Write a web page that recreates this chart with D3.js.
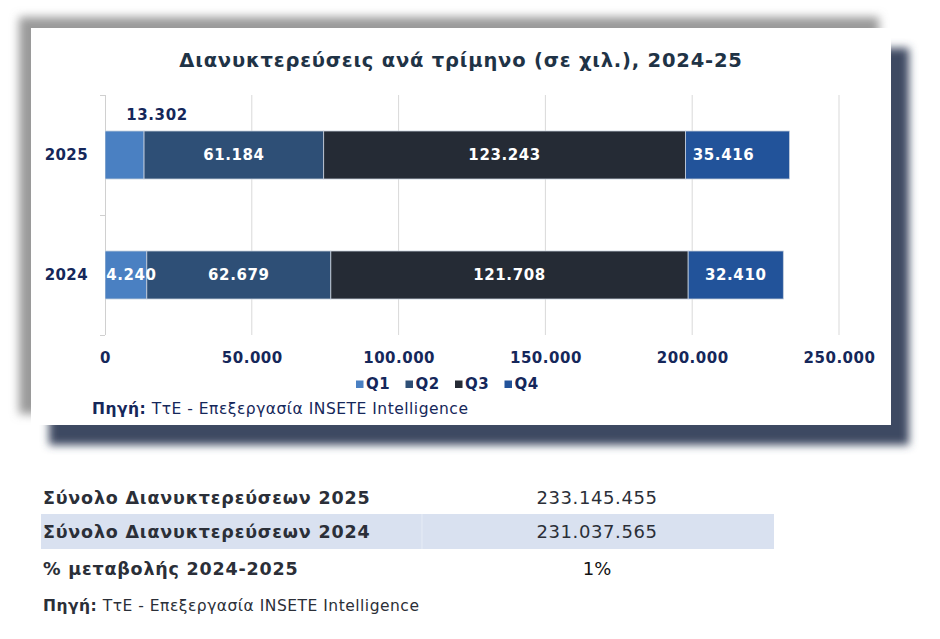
<!DOCTYPE html>
<html>
<head>
<meta charset="utf-8">
<script src="https://cdn.jsdelivr.net/npm/d3@7"></script>
<style>
body { margin: 0; background: #fff; }
svg { display: block; font-family: "DejaVu Sans", Verdana, sans-serif; }
</style>
</head>
<body>
<script>
// chart data
var years = ["2025", "2024"];
var quarters = ["Q1", "Q2", "Q3", "Q4"];
var q1 = [13302, 14240];
var q2 = [61184, 62679];
var q3 = [123243, 121708];
var q4 = [35416, 32410];
var xTicks = [0, 50000, 100000, 150000, 200000, 250000];
var colors = ["#4a80c2", "#2e4f76", "#252b35", "#22539a"];

// table below the chart
var totalLabels = ["Σύνολο Διανυκτερεύσεων 2025", "Σύνολο Διανυκτερεύσεων 2024", "% μεταβολής 2024-2025"];
var totalValues = [233145455, 231037565];
var changePct = 1;

var W = 940, H = 639;
var gr = d3.formatLocale({decimal: ",", thousands: ".", grouping: [3], currency: ["", "€"]});
var fmt = gr.format(",d");

var svg = d3.select("body").append("svg").attr("width", W).attr("height", H);
var defs = svg.append("defs");
defs.append("filter").attr("id", "blurA").attr("x", "-10%").attr("y", "-10%").attr("width", "120%").attr("height", "120%")
	.append("feGaussianBlur").attr("stdDeviation", 5);
defs.append("filter").attr("id", "blurB").attr("x", "-10%").attr("y", "-10%").attr("width", "120%").attr("height", "120%")
	.append("feGaussianBlur").attr("stdDeviation", 4);

// box + shadows
var bx = 31, by = 28, bw = 860, bh = 397;
svg.append("rect").attr("x", bx - 12).attr("y", by - 11).attr("width", bw).attr("height", bh)
	.attr("fill", "#9a9a9a").attr("filter", "url(#blurA)");
svg.append("rect").attr("x", bx + 18).attr("y", by + 20).attr("width", bw).attr("height", bh)
	.attr("fill", "#3c4862").attr("filter", "url(#blurB)");
svg.append("rect").attr("x", bx).attr("y", by).attr("width", bw).attr("height", bh).attr("fill", "#fff");

svg.append("text").attr("x", 461).attr("y", 67).attr("text-anchor", "middle")
	.attr("font-size", "19.5px").attr("font-weight", "bold").attr("fill", "#1f3346")
	.attr("letter-spacing", "0.8px")
	.text("Διανυκτερεύσεις ανά τρίμηνο (σε χιλ.), 2024-25");

// scales
var x = d3.scaleLinear().domain([0, 250000]).range([105, 839]);
var y = d3.scaleBand().domain(years).range([95, 335]).paddingInner(0).paddingOuter(0);
var barH = 48;

// gridlines
svg.append("g").selectAll("line").data(xTicks.slice(1)).enter().append("line")
	.attr("x1", function(d) { return x(d); }).attr("x2", function(d) { return x(d); })
	.attr("y1", 95).attr("y2", 335).attr("stroke", "#d9d9d9").attr("stroke-width", 1);

// x axis labels
var xAxis = d3.axisBottom(x).tickValues(xTicks).tickSize(0).tickPadding(0).tickFormat(fmt);
var gx = svg.append("g").attr("transform", "translate(0,363)").call(xAxis);
gx.select(".domain").remove();
gx.selectAll("text").attr("dy", 0).attr("font-size", "15px").attr("font-weight", "bold")
	.attr("letter-spacing", "0.5px")
	.attr("fill", "#15275a").attr("font-family", "DejaVu Sans, sans-serif");

// y axis: line with ticks at band edges
svg.append("line").attr("x1", 105.5).attr("x2", 105.5).attr("y1", 95).attr("y2", 335).attr("stroke", "#d0d0d0");
var edges = years.map(function(d) { return y(d); }).concat([y.range()[1]]);
svg.append("g").selectAll("line").data(edges).enter().append("line")
	.attr("x1", 100).attr("x2", 105).attr("y1", function(d) { return d + 0.5; }).attr("y2", function(d) { return d + 0.5; })
	.attr("stroke", "#d0d0d0");
var yAxis = d3.axisLeft(y).tickSize(0).tickPadding(17);
var gy = svg.append("g").attr("transform", "translate(105,0)").call(yAxis);
gy.select(".domain").remove();
gy.selectAll("text").attr("font-size", "15px").attr("font-weight", "bold").attr("fill", "#15275a")
	.attr("letter-spacing", "0.4px")
	.attr("font-family", "DejaVu Sans, sans-serif");

// stacked bars
var rows = years.map(function(yr, i) {
	var o = {year: yr};
	o.Q1 = q1[i]; o.Q2 = q2[i]; o.Q3 = q3[i]; o.Q4 = q4[i];
	return o;
});
var series = d3.stack().keys(quarters)(rows);

defs.append("clipPath").attr("id", "plotClip").append("rect")
	.attr("x", 105).attr("y", 80).attr("width", 760).attr("height", 270);

var plot = svg.append("g").attr("clip-path", "url(#plotClip)");
var layer = plot.selectAll("g.layer").data(series).enter().append("g").attr("class", "layer")
	.attr("fill", function(d, i) { return colors[i]; });
layer.selectAll("rect").data(function(d) { return d; }).enter().append("rect")
	.attr("x", function(d) { return x(d[0]); })
	.attr("width", function(d) { return x(d[1]) - x(d[0]); })
	.attr("y", function(d) { return y(d.data.year) + (y.bandwidth() - barH) / 2; })
	.attr("height", barH)
	.attr("stroke", "#c6cfdd").attr("stroke-width", 0.8);

// value labels
series.forEach(function(s, si) {
	s.forEach(function(d) {
		var val = d[1] - d[0];
		var cy = y(d.data.year) + y.bandwidth() / 2;
		var cx = (x(d[0]) + x(d[1])) / 2;
		var fill = "#fff";
		// the narrow Q1 segment of 2025 gets its label above the bar
		if (si === 0 && d.data.year === "2025") {
			cx = 157; cy = y(d.data.year) + (y.bandwidth() - barH) / 2 - 16; fill = "#15275a";
		}
		if (si === 3 && d.data.year === "2025") cx -= 14;
		plot.append("text").attr("x", cx).attr("y", cy).attr("dy", "0.36em")
			.attr("text-anchor", "middle").attr("font-size", "15px").attr("font-weight", "bold")
			.attr("letter-spacing", "0.6px")
			.attr("fill", fill).text(fmt(val));
	});
});

// legend
var leg = svg.append("g").selectAll("g").data(quarters).enter().append("g")
	.attr("transform", function(d, i) { return "translate(" + (356 + i * 49.5) + ",384)"; });
leg.append("rect").attr("x", 0).attr("y", -3.5).attr("width", 7.5).attr("height", 7.5)
	.attr("fill", function(d, i) { return colors[i]; });
leg.append("text").attr("x", 10).attr("dy", "0.36em").attr("font-size", "15px").attr("font-weight", "bold")
	.attr("letter-spacing", "0.4px")
	.attr("fill", "#15275a").text(function(d) { return d; });

// source in chart
var src = svg.append("text").attr("x", 92).attr("y", 414).attr("font-size", "15.5px").attr("fill", "#15275a")
	.attr("letter-spacing", "0.5px");
src.append("tspan").attr("font-weight", "bold").text("Πηγή:");
src.append("tspan").text(" ΤτΕ - Επεξεργασία INSETE Intelligence");

// table
var rowY = [498, 532, 569];
svg.append("rect").attr("x", 41).attr("y", 514).attr("width", 733).attr("height", 35).attr("fill", "#d9e1f0");
svg.append("line").attr("x1", 422).attr("x2", 422).attr("y1", 514).attr("y2", 549).attr("stroke", "#e6ecf6");
var tg = svg.append("g");
tg.selectAll("text.lbl").data(totalLabels).enter().append("text").attr("class", "lbl")
	.attr("x", 43).attr("y", function(d, i) { return rowY[i]; }).attr("dy", "0.36em")
	.attr("font-size", "17.5px").attr("font-weight", "bold").attr("fill", "#2b2f38")
	.attr("letter-spacing", "0.8px")
	.text(function(d) { return d; });
tg.selectAll("text.val").data(totalValues).enter().append("text").attr("class", "val")
	.attr("x", 597).attr("y", function(d, i) { return rowY[i]; }).attr("dy", "0.36em")
	.attr("text-anchor", "middle").attr("font-size", "18px").attr("fill", "#2b2f38")
	.attr("letter-spacing", "0.6px")
	.text(function(d) { return fmt(d); });
tg.append("text").attr("x", 597).attr("y", rowY[2]).attr("dy", "0.36em").attr("text-anchor", "middle")
	.attr("font-size", "18px").attr("fill", "#111").text(changePct + "%");

var src2 = svg.append("text").attr("x", 43).attr("y", 611).attr("font-size", "15.5px").attr("fill", "#2b2f38")
	.attr("letter-spacing", "0.5px");
src2.append("tspan").attr("font-weight", "bold").text("Πηγή:");
src2.append("tspan").text(" ΤτΕ - Επεξεργασία INSETE Intelligence");
</script>
</body>
</html>
